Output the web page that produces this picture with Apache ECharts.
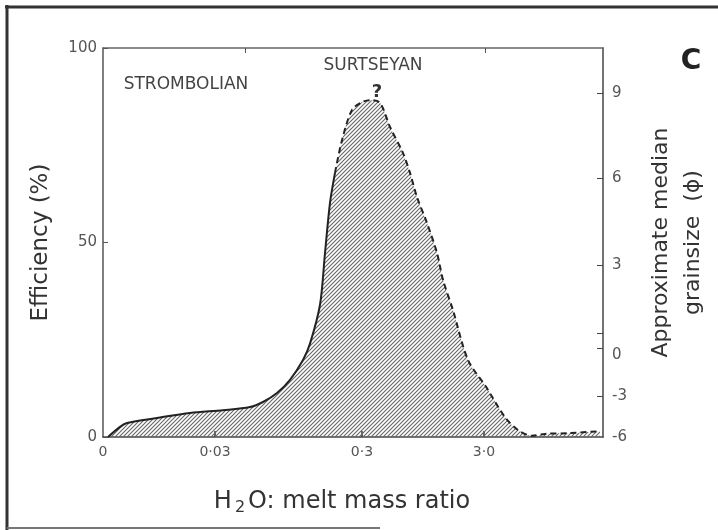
<!DOCTYPE html>
<html>
<head>
<meta charset="utf-8">
<script src="https://cdn.jsdelivr.net/npm/echarts@6/dist/echarts.min.js"></script>
<style>
html, body { margin: 0; padding: 0; background: #fff; }
#chart { width: 718px; height: 530px; }
</style>
</head>
<body>
<div id="chart"></div>
<script>
// position along the schematic H2O:melt ratio axis (0..100 across the frame)
var ratioPos = [1.0, 3.4, 4.8, 10.8, 17.4, 24.0, 29.4, 32.0, 34.8, 37.4, 40.0, 41.4, 43.4, 44.4, 45.4, 46.4,
    47.8, 49.8, 51.8, 53.4, 55.4, 57.4, 60.0, 61.4, 62.8, 64.8, 66.8, 68.0, 70.0, 73.0, 76.6, 80.4, 83.0, 85.8, 88.4, 93.4, 99.4];
// efficiency (%)
var efficiency = [0, 2.6, 3.6, 4.9, 6.2, 6.9, 7.7, 9.0, 11.3, 14.7, 19.8, 24.0, 34.0, 47.3, 60.2, 67.9,
    76.3, 84.1, 86.1, 86.6, 85.9, 79.7, 73.0, 67.9, 61.7, 55.0, 47.3, 40.4, 32.6, 19.8, 12.9, 5.1, 1.8, 0.3, 0.8, 1.0, 1.5];
var solidEnd = 15;   // curve is solid up to this point, dashed after

var ratioTicks = [0, 22.4, 51.8, 76.2];
var ratioLabels = ['0', '0·03', '0·3', '3·0'];
var topTicks = [28.4, 76.4];

// right axis (grainsize) is not linear with efficiency, so labels sit at fixed efficiency heights
var phiPos = [88.4, 66.6, 44.2, 21.1, 10.5, 0];
var phiLabels = ['9', '6', '3', '0', '-3', '-6'];
var phiTicks = [88.4, 66.6, 44.2, 26.7, 22.9, 10.5];

var pts = ratioPos.map(function (x, i) { return [x, efficiency[i]]; });

// hatch pattern for the area
var hatch = document.createElement('canvas');
hatch.width = 4; hatch.height = 4;
var ctx = hatch.getContext('2d');
ctx.strokeStyle = '#666';
ctx.lineWidth = 1.1;
ctx.beginPath();
ctx.moveTo(0, 4); ctx.lineTo(4, 0);
ctx.moveTo(-1, 1); ctx.lineTo(1, -1);
ctx.moveTo(3, 5); ctx.lineTo(5, 3);
ctx.stroke();

var FONT = 'DejaVu Sans';
var chart = echarts.init(document.getElementById('chart'));

var option = {
    animation: false,
    backgroundColor: '#fff',
    textStyle: { fontFamily: FONT },
    grid: { left: 103, right: 115, top: 48, bottom: 93 },
    xAxis: [{
        type: 'value', min: 0, max: 100,
        axisLine: { onZero: false, lineStyle: { color: '#444', width: 1.5 } },
        axisTick: { inside: true, length: 6, customValues: ratioTicks.slice(1), lineStyle: { color: '#333', width: 1.5 } },
        axisLabel: {
            customValues: ratioTicks, color: '#555', fontSize: 14, margin: 8,
            formatter: function (v) { return ratioLabels[ratioTicks.indexOf(v)]; }
        },
        splitLine: { show: false },
        name: 'H{s|2}O: melt mass ratio', nameLocation: 'middle', nameGap: 50,
        nameTextStyle: { fontSize: 24, color: '#333', padding: [0, 22, 0, 0], rich: { s: { fontSize: 16, color: '#333', padding: [13, 3, 0, 3] } } }
    }, {
        type: 'value', position: 'top', min: 0, max: 100,
        axisLine: { onZero: false, lineStyle: { color: '#666', width: 1.5 } },
        axisTick: { inside: true, length: 5, customValues: topTicks, lineStyle: { color: '#555' } },
        axisLabel: { show: false },
        splitLine: { show: false }
    }],
    yAxis: [{
        type: 'value', min: 0, max: 100, interval: 50,
        axisLine: { show: true, onZero: false, lineStyle: { color: '#555', width: 1.5 } },
        axisTick: { show: true, inside: true, length: 5, lineStyle: { color: '#555' } },
        axisLabel: { color: '#555', fontSize: 15, margin: 6 },
        splitLine: { show: false },
        name: 'Efficiency (%)', nameLocation: 'middle', nameRotate: 90, nameGap: 50,
        nameTextStyle: { fontSize: 23, color: '#333' }
    }, {
        type: 'value', min: 0, max: 100, position: 'right',
        axisLine: { show: true, onZero: false, lineStyle: { color: '#444', width: 1.5 } },
        axisTick: { show: true, inside: true, length: 6, customValues: phiTicks, lineStyle: { color: '#444' } },
        axisLabel: {
            customValues: phiPos, color: '#555', fontSize: 15, margin: 9,
            formatter: function (v) { return phiLabels[phiPos.indexOf(v)]; }
        },
        splitLine: { show: false },
        name: 'Approximate median\ngrainsize  (ϕ)', nameLocation: 'middle', nameRotate: 90, nameGap: 42,
        nameTextStyle: { fontSize: 22, color: '#333', lineHeight: 32 }
    }],
    graphic: [
        { type: 'line', shape: { x1: 5, y1: 7, x2: 718, y2: 7 }, style: { stroke: '#333', lineWidth: 3 } },
        { type: 'line', shape: { x1: 7, y1: 5, x2: 7, y2: 530 }, style: { stroke: '#333', lineWidth: 3 } },
        { type: 'line', shape: { x1: 7, y1: 528, x2: 380, y2: 528 }, style: { stroke: '#777', lineWidth: 2 } },
        { type: 'text', style: { text: 'STROMBOLIAN', x: 186, y: 85, align: 'center', verticalAlign: 'middle', font: '17px DejaVu Sans', fill: '#444' } },
        { type: 'text', style: { text: 'SURTSEYAN', x: 373, y: 66, align: 'center', verticalAlign: 'middle', font: '17px DejaVu Sans', fill: '#444' } },
        { type: 'text', style: { text: '?', x: 377, y: 92, align: 'center', verticalAlign: 'middle', font: 'bold 18px DejaVu Sans', fill: '#333' } },
        { type: 'text', style: { text: 'C', x: 691, y: 62, align: 'center', verticalAlign: 'middle', font: 'bold 28px DejaVu Sans', fill: '#222' } }
    ],
    series: [{
        type: 'line', data: pts, symbol: 'none', silent: true, smooth: 0.3,
        lineStyle: { width: 0 },
        areaStyle: { color: { image: hatch, repeat: 'repeat' }, opacity: 1 }
    }, {
        type: 'line', data: pts.slice(0, solidEnd + 1), symbol: 'none', smooth: 0.3,
        lineStyle: { color: '#222', width: 2 }
    }, {
        type: 'line', data: pts.slice(solidEnd), symbol: 'none', smooth: 0.3,
        lineStyle: { color: '#222', width: 2, type: [6, 4] }
    }]
};

option && chart.setOption(option);
window.addEventListener('resize', chart.resize);
</script>
</body>
</html>
